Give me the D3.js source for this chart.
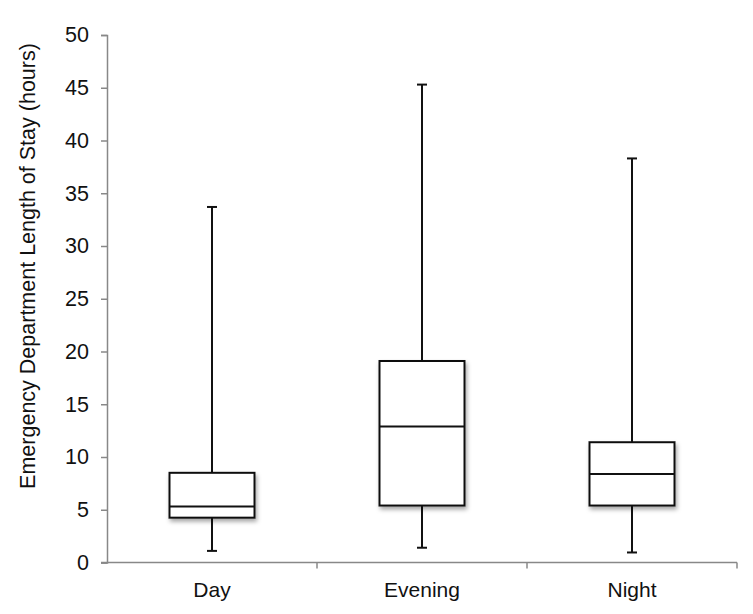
<!DOCTYPE html>
<html>
<head>
<meta charset="utf-8">
<script src="https://cdn.jsdelivr.net/npm/d3@7"></script>
<style>
  body { margin: 0; background: #fff; }
  svg { display: block; }
  text { font-family: "Liberation Sans", Arial, sans-serif; fill: #111; }
</style>
</head>
<body>
<svg id="chart" width="753" height="614"></svg>
<script>
// box plot of ED length of stay by shift
const shifts = ["Day", "Evening", "Night"];
const whiskerLow = [1.1, 1.4, 0.95];
const q1 = [4.25, 5.4, 5.4];
const median = [5.3, 12.9, 8.4];
const q3 = [8.5, 19.1, 11.4];
const whiskerHigh = [33.7, 45.3, 38.3];
const yTicks = [0, 5, 10, 15, 20, 25, 30, 35, 40, 45, 50];

const margin = { top: 35, right: 16, bottom: 51, left: 107 };
const width = 753, height = 614;

const svg = d3.select("#chart");

// soft shadow under each box
const defs = svg.append("defs");
const f = defs.append("filter").attr("id", "shadow")
    .attr("x", "-10%").attr("y", "-10%").attr("width", "125%").attr("height", "130%");
f.append("feDropShadow")
    .attr("dx", 1.5).attr("dy", 3).attr("stdDeviation", 2)
    .attr("flood-color", "#000").attr("flood-opacity", 0.35);

const x = d3.scaleBand()
    .domain(shifts)
    .range([margin.left, 737]);

const y = d3.scaleLinear()
    .domain([0, 50])
    .range([height - margin.bottom - 0.5, margin.top]);

const data = shifts.map((s, i) => ({
    shift: s, lo: whiskerLow[i], q1: q1[i], med: median[i], q3: q3[i], hi: whiskerHigh[i]
}));

// y axis
const yAxis = svg.append("g")
    .attr("transform", `translate(${margin.left},0)`)
    .call(d3.axisLeft(y).tickValues(yTicks).tickSize(6).tickPadding(12));
yAxis.select(".domain").attr("stroke", "#888").attr("stroke-width", 1.5);
yAxis.selectAll(".tick line").attr("stroke", "#888").attr("stroke-width", 1.5);
yAxis.selectAll(".tick text").style("font-size", "21.5px").attr("fill", "#111");

// x axis: line from tick of 0 to right end, ticks at band edges
const yBase = y(0);
const xAxis = svg.append("g");
xAxis.append("line")
    .attr("x1", margin.left - 6).attr("x2", x.range()[1])
    .attr("y1", yBase).attr("y2", yBase)
    .attr("stroke", "#888").attr("stroke-width", 1.5);
const edges = shifts.slice(1).map(s => x(s)).concat([x.range()[1]]);
xAxis.selectAll("line.edge")
    .data(edges)
    .join("line")
    .attr("class", "edge")
    .attr("x1", d => d).attr("x2", d => d)
    .attr("y1", yBase).attr("y2", yBase + 6)
    .attr("stroke", "#888").attr("stroke-width", 1.5);
xAxis.selectAll("text")
    .data(shifts)
    .join("text")
    .attr("x", d => x(d) + x.bandwidth() / 2)
    .attr("y", yBase + 34)
    .attr("text-anchor", "middle")
    .style("font-size", "21px")
    .text(d => d);

// y label
svg.append("text")
    .attr("transform", `translate(35,266) rotate(-90)`)
    .attr("text-anchor", "middle")
    .style("font-size", "21.5px")
    .text("Emergency Department Length of Stay (hours)");

const boxW = 85, capW = 10;
const g = svg.append("g")
    .selectAll("g.box")
    .data(data)
    .join("g")
    .attr("class", "box")
    .attr("transform", d => `translate(${x(d.shift) + x.bandwidth() / 2},0)`);

// whiskers
g.append("line")
    .attr("x1", 0).attr("x2", 0)
    .attr("y1", d => y(d.hi)).attr("y2", d => y(d.q3))
    .attr("stroke", "#111").attr("stroke-width", 2);
g.append("line")
    .attr("x1", 0).attr("x2", 0)
    .attr("y1", d => y(d.q1)).attr("y2", d => y(d.lo))
    .attr("stroke", "#111").attr("stroke-width", 2);
g.append("line")
    .attr("x1", -capW / 2).attr("x2", capW / 2)
    .attr("y1", d => y(d.hi)).attr("y2", d => y(d.hi))
    .attr("stroke", "#111").attr("stroke-width", 2);
g.append("line")
    .attr("x1", -capW / 2).attr("x2", capW / 2)
    .attr("y1", d => y(d.lo)).attr("y2", d => y(d.lo))
    .attr("stroke", "#111").attr("stroke-width", 2);

// boxes
g.append("rect")
    .attr("x", -boxW / 2)
    .attr("width", boxW)
    .attr("y", d => y(d.q3))
    .attr("height", d => y(d.q1) - y(d.q3))
    .attr("fill", "#fff")
    .attr("stroke", "#111").attr("stroke-width", 2)
    .attr("filter", "url(#shadow)");

// median
g.append("line")
    .attr("x1", -boxW / 2).attr("x2", boxW / 2)
    .attr("y1", d => y(d.med)).attr("y2", d => y(d.med))
    .attr("stroke", "#111").attr("stroke-width", 2);
</script>
</body>
</html>
